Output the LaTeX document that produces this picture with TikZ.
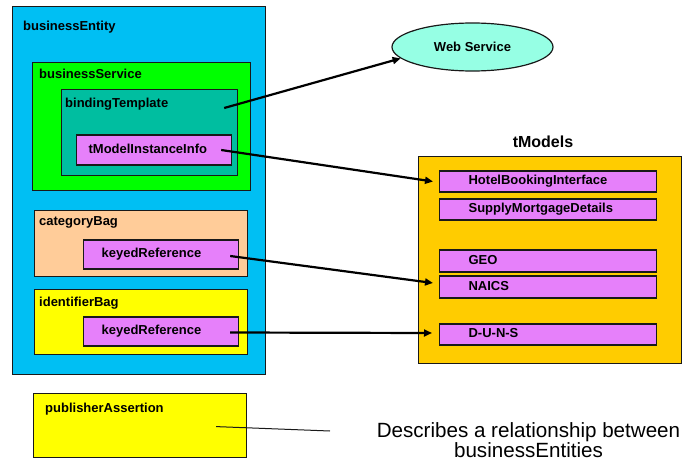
\documentclass[tikz,border=0pt]{standalone}
\usepackage{fontspec}
\setmainfont{Liberation Sans}
\usetikzlibrary{arrows.meta,shapes.geometric}

\definecolor{edge}{RGB}{25,25,25}
\definecolor{entityblue}{RGB}{0,191,243}
\definecolor{servicegreen}{RGB}{0,255,0}
\definecolor{bindingteal}{RGB}{0,190,160}
\definecolor{entryviolet}{RGB}{230,128,250}
\definecolor{catpeach}{RGB}{255,204,153}
\definecolor{idyellow}{RGB}{255,255,0}
\definecolor{tmodelgold}{RGB}{255,204,0}
\definecolor{wsmint}{RGB}{150,255,228}

\begin{document}
\begin{tikzpicture}[x=1pt,y=-1pt,
  box/.style={draw=edge, line width=1.2pt, inner sep=0pt, anchor=north west},
  entry/.style={draw=edge, line width=1.2pt, fill=entryviolet, anchor=west,
    inner ysep=0pt, align=left, text height=9.5pt, text depth=3pt,
    font=\bfseries\fontsize{13}{15}\selectfont},
  lbl/.style={anchor=base west, inner sep=0pt, font=\bfseries\fontsize{13}{15}\selectfont},
  arr/.style={line width=2.2pt, -{Triangle[length=8pt,width=7pt]}},
  note/.style={anchor=base, inner sep=0pt, font=\fontsize{20.6}{22}\selectfont}]

\useasboundingbox (0,0) rectangle (683,460);

% businessEntity and its contents
\node[box, fill=entityblue, minimum width=253pt, minimum height=368pt] (be) at (12,6) {};
\node[lbl] (beL) at (23,31) {businessEntity};

\node[box, fill=servicegreen, minimum width=218pt, minimum height=128pt] (bs) at (32,62) {};
\node[lbl] (bsL) at (39,79) {businessService};

\node[box, fill=bindingteal, minimum width=176pt, minimum height=86pt] (bt) at (61,89) {};
\node[lbl] (btL) at (65,107) {bindingTemplate};

\node[entry, minimum height=30pt, inner xsep=12pt, text width=131pt] (tmii) at (76,150) {tModelInstanceInfo};

\node[box, fill=catpeach, minimum width=213pt, minimum height=66pt] (cb) at (34,210) {};
\node[lbl] (cbL) at (39,225) {categoryBag};
\node[entry, minimum height=29pt, inner xsep=18pt, text width=119pt] (kr1) at (83,254.5) {keyedReference};

\node[box, fill=idyellow, minimum width=213pt, minimum height=65pt] (ib) at (34,289) {};
\node[lbl] (ibL) at (39,306) {identifierBag};
\node[entry, minimum height=29pt, inner xsep=18pt, text width=119pt] (kr2) at (83,331.5) {keyedReference};

% publisherAssertion
\node[box, fill=idyellow, minimum width=213pt, minimum height=64pt] (pa) at (33,393) {};
\node[lbl] (paL) at (45,412) {publisherAssertion};

% Web Service
\node[ellipse, draw=edge, line width=1.2pt, fill=wsmint, minimum width=161pt,
  minimum height=48pt, inner sep=0pt, font=\bfseries\fontsize{13}{15}\selectfont]
  (ws) at (472.5,47) {Web Service};

% tModels
\node[anchor=base, inner sep=0pt, font=\bfseries\fontsize{16}{18}\selectfont] (tmT) at (543,147) {tModels};
\node[box, fill=tmodelgold, minimum width=263pt, minimum height=207pt] (tm) at (418,156) {};
\node[entry, minimum height=21pt, inner xsep=29pt, text width=159pt] (hotel) at (439,181.5) {HotelBookingInterface};
\node[entry, minimum height=21pt, inner xsep=29pt, text width=159pt] (supply) at (439,209.5) {SupplyMortgageDetails};
\node[entry, minimum height=22pt, inner xsep=29pt, text width=159pt] (geo) at (439,261) {GEO};
\node[entry, minimum height=22pt, inner xsep=29pt, text width=159pt] (naics) at (439,287) {NAICS};
\node[entry, minimum height=21pt, inner xsep=29pt, text width=159pt] (duns) at (439,334.5) {D-U-N-S};

% connector end points
\coordinate (btS) at ([xshift=-14pt,yshift=-19pt]bt.north east);
\coordinate (tmiiS) at ([xshift=-11pt]tmii.east);
\coordinate (kr1S) at ([xshift=-9pt,yshift=-1.5pt]kr1.east);
\coordinate (kr2S) at ([xshift=-9pt,yshift=-1pt]kr2.east);
\coordinate (paS) at ([xshift=-31pt,yshift=-1pt]pa.east);
\coordinate (paE) at (330,431);
\coordinate (hotelE) at ([xshift=-6pt]hotel.west);
\coordinate (naicsE) at ([xshift=-6pt,yshift=4pt]naics.west);
\coordinate (dunsE) at ([xshift=-7pt,yshift=1.5pt]duns.west);

% connectors
\draw[arr] (btS) -- (ws.189);
\draw[arr] (tmiiS) -- (hotelE);
\draw[arr] (kr1S) -- (naicsE);
\draw[arr] (kr2S) -- (dunsE);
\draw[line width=1pt, draw=edge] (paS) -- (paE);

% note
\node[note] (n1) at (528.5,437) {Describes a relationship between};
\node[note] (n2) at (528.5,457) {businessEntities};
\end{tikzpicture}
\end{document}
